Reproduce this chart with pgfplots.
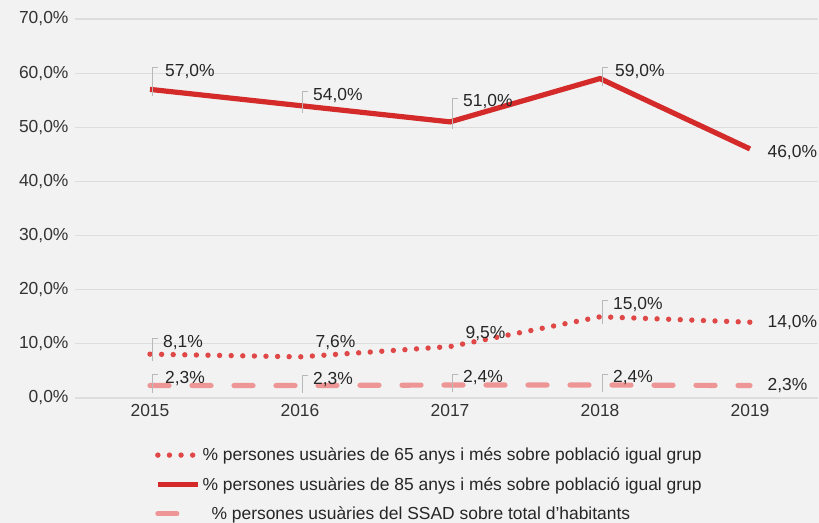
\documentclass[border=0pt]{standalone}
\usepackage{fontspec}
\setmainfont{Liberation Sans}
\usepackage{pgfplots}
\pgfplotsset{compat=1.18}
\definecolor{bg}{HTML}{F2F2F2}
\definecolor{gridc}{HTML}{DDDDDD}
\definecolor{cA}{HTML}{E04848}
\definecolor{cB}{HTML}{D42A2A}
\definecolor{cC}{HTML}{EE9595}
\definecolor{lead}{HTML}{B8B8B8}

% leader line drawn from the label's top left corner down to the point
\newcommand\leader{\ifdim\ld pt>0.5pt\tikz[overlay]\draw[lead, solid, line width=0.6bp]
  ({-(\dx-7)*1bp},9bp) -- ({-(\dx-1)*1bp},9bp) -- ({-(\dx-1)*1bp},{-(\dy+2)*1bp});\fi}

\pgfplotsset{
  lbl/.style={
    visualization depends on={\thisrow{dx}\as\dx},
    visualization depends on={\thisrow{dy}\as\dy},
    visualization depends on={\thisrow{ld}\as\ld},
    nodes near coords={\leader\pgfmathprintnumber[fixed,fixed zerofill,precision=1,use comma]{\pgfplotspointmeta}\%},
    nodes near coords style={anchor=west, inner sep=1bp, xshift=\dx bp, yshift=\dy bp,
      font=\fontsize{17.5}{20}\selectfont, text=black!85},
  },
}

\pgfplotstableread{
x  y    dx dy ld
0  8.1  12 12 1
1  7.6  12 14 0
2  9.5  12 13 0
3  15.0 12 12 1
4  14.0 14 0  0
}\tabA
\pgfplotstableread{
x  y    dx dy ld
0  57.0 14 18 1
1  54.0 12 10 1
2  51.0 12 20 1
3  59.0 14 7  1
4  46.0 14 -4 0
}\tabB
\pgfplotstableread{
x  y    dx dy ld
0  2.3  14 7  1
1  2.3  12 6  1
2  2.4  12 7  1
3  2.4  12 7  1
4  2.3  14 0  0
}\tabC

\begin{document}
\begin{tikzpicture}
\useasboundingbox (0,0) rectangle (819bp,523bp);
\fill[bg] (0,0) rectangle (819bp,523bp);
\begin{axis}[at={(75bp,125bp)}, anchor=south west, scale only axis,
  width=742.5bp, height=379bp,
  xmin=-0.5, xmax=4.45, ymin=0, ymax=70,
  ytick={0,10,...,70}, xtick={0,1,2,3,4},
  xticklabels={2015,2016,2017,2018,2019},
  axis line style={draw=none}, tick style={draw=none},
  ymajorgrids, grid style={draw=gridc, line width=1.2bp},
  /pgf/number format/assume math mode=true,
  yticklabel={\pgfmathprintnumber[fixed,fixed zerofill,precision=1,use comma]{\tick}\%},
  ticklabel style={font=\fontsize{17.5}{20}\selectfont, text=black!80},
  yticklabel style={xshift=-3bp},
  xticklabel style={yshift=-3bp},
  legend style={at={(0.1077,-0.126)}, anchor=north west, draw=none, fill=none,
    font=\fontsize{17.5}{20}\selectfont, text=black!85, row sep=11bp,
    inner sep=0pt},
  legend cell align=left,
  legend image code/.code={\draw[#1] (0bp,0bp) -- (40bp,0bp);},
  clip=false,
]
\addplot[cA, line width=5.4bp, line cap=round, dash pattern=on 0pt off 11.6bp, lbl]
  table[x=x, y=y] {\tabA};
\addlegendentry{\% persones usuàries de 65 anys i més sobre població igual grup}
\addplot[cB, line width=5.2bp, lbl]
  table[x=x, y=y] {\tabB};
\addlegendentry{\% persones usuàries de 85 anys i més sobre població igual grup}
\addplot[cC, line width=5.2bp, line cap=round, dash pattern=on 19bp off 23bp, lbl]
  table[x=x, y=y] {\tabC};
\addlegendentry{\hspace{9bp}\% persones usuàries del SSAD sobre total d'habitants}
\end{axis}
\end{tikzpicture}
\end{document}
